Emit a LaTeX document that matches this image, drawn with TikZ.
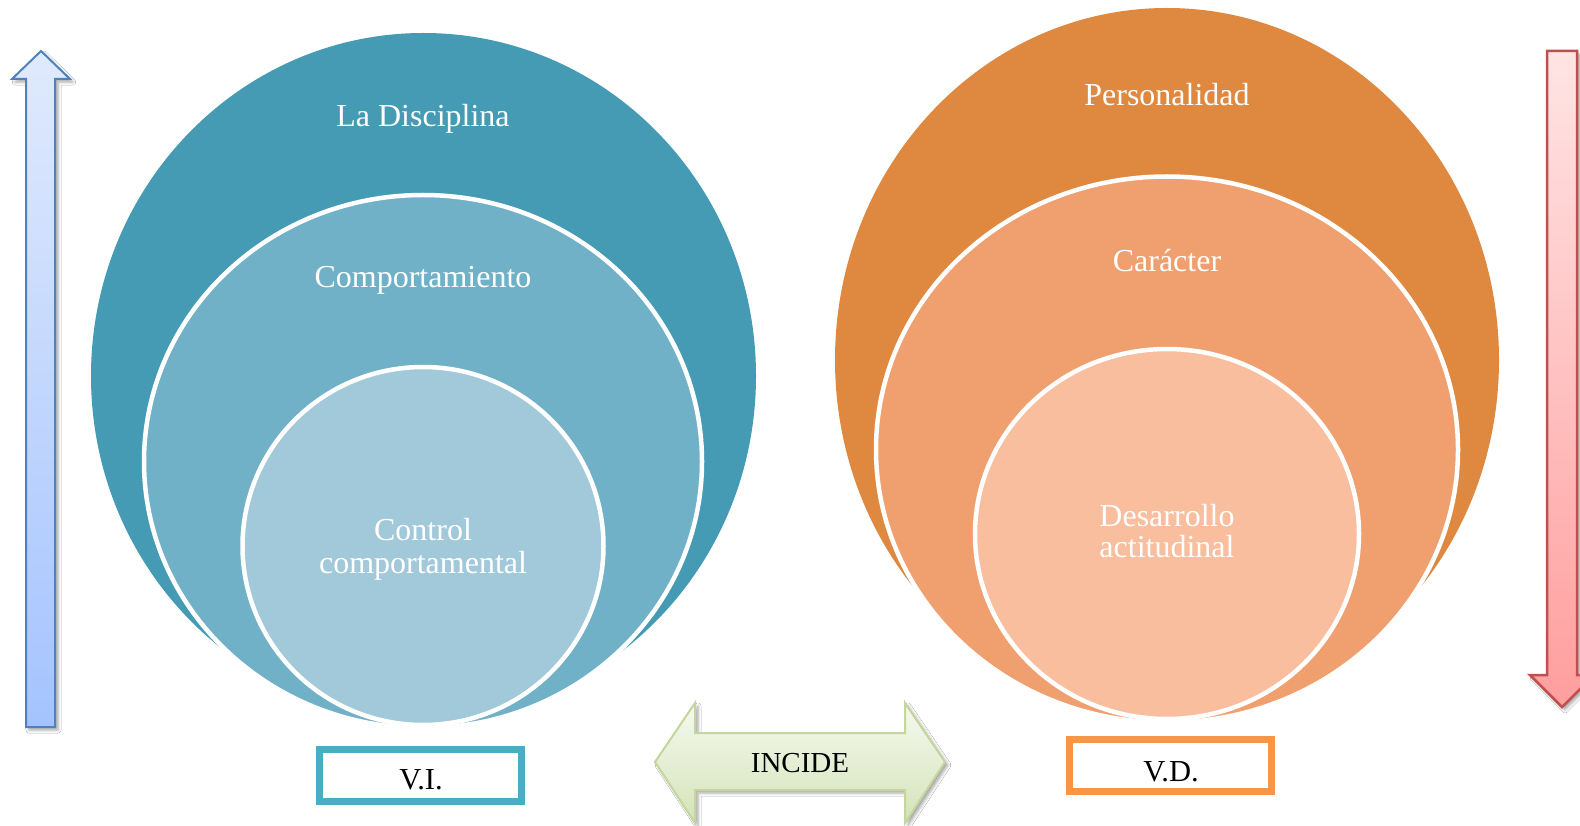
\documentclass[tikz,border=0pt]{standalone}
\usepackage{fontspec}
\setmainfont{Liberation Serif}
\usetikzlibrary{shapes.geometric,shadows.blur}
\definecolor{blueOuter}{HTML}{459BB4}
\definecolor{blueMid}{HTML}{70B1C8}
\definecolor{blueIn}{HTML}{A2C9D9}
\definecolor{orOuter}{HTML}{DF8840}
\definecolor{orMid}{HTML}{EFA06E}
\definecolor{orIn}{HTML}{F8BE9E}
\definecolor{viBox}{HTML}{4BACC6}
\definecolor{vdBox}{HTML}{F79646}
\definecolor{upLine}{HTML}{4F81BD}
\definecolor{upTop}{HTML}{E0EAFD}
\definecolor{upBot}{HTML}{A4C3FE}
\definecolor{dnLine}{HTML}{C0504D}
\definecolor{dnTop}{HTML}{FFE4E4}
\definecolor{dnBot}{HTML}{FF9E9E}
\definecolor{gLine}{HTML}{C3D69B}
\definecolor{gTop}{HTML}{F6F9F0}
\definecolor{gBot}{HTML}{D4E3B8}
\tikzset{
  disc/.style={ellipse, inner sep=0pt, outer sep=0pt},
  ring/.style={disc, draw=white, line width=4.5pt},
  wlabel/.style={text=white, font=\fontsize{32}{33}\selectfont, anchor=base, inner sep=0pt},
  varbox/.style={draw, line width=7pt, fill=white, inner sep=0pt, outer sep=0pt},
  blabel/.style={text=black, anchor=base, inner sep=0pt},
  arrowshadow/.style={blur shadow={shadow xshift=3pt, shadow yshift=-3pt, shadow blur radius=3pt, shadow opacity=35}}
}
\begin{document}
\begin{tikzpicture}[x=1pt,y=-1pt]
\clip (0,0) rectangle (1580,826);
\fill[white] (0,0) rectangle (1580,826);

% side arrows
\shade[top color=upTop, bottom color=upBot, draw=upLine, line width=2pt, line join=miter, arrowshadow]
  (41,51) -- (70,79) -- (55,79) -- (55,727) -- (26,727) -- (26,79) -- (12,79) -- cycle;
\shade[top color=dnTop, bottom color=dnBot, draw=dnLine, line width=2.5pt, line join=miter, arrowshadow]
  (1547,51) -- (1577,51) -- (1577,675) -- (1594,675) -- (1562,707) -- (1530,675) -- (1547,675) -- cycle;

% left stacked circles
\node[disc, fill=blueOuter, minimum width=665pt, minimum height=686pt] (outerL) at (423.5,376) {};
\node[ring, fill=blueMid, minimum width=558pt, minimum height=533pt] (midL) at (423,461.5) {};
\node[ring, fill=blueIn, minimum width=361pt, minimum height=358pt] (innL) at (423,546) {};
\node[wlabel] (tDisc) at (423,127) {La Disciplina};
\node[wlabel] (tComp) at (423,288) {Comportamiento};
\node[wlabel] (tCtrlA) at (423,540) {Control};
\node[wlabel] (tCtrlB) at (423,573) {comportamental};

% right stacked circles
\node[disc, fill=orOuter, minimum width=664pt, minimum height=704pt] (outerR) at (1167,360) {};
\node[ring, fill=orMid, minimum width=582pt, minimum height=546pt] (midR) at (1167,449.5) {};
\node[ring, fill=orIn, minimum width=384pt, minimum height=370pt] (innR) at (1167,534) {};
\node[wlabel] (tPers) at (1167,106) {Personalidad};
\node[wlabel] (tCar) at (1167,272) {Carácter};
\node[wlabel] (tDesA) at (1167,526) {Desarrollo};
\node[wlabel] (tDesB) at (1167,557) {actitudinal};

% variable boxes
\node[varbox, draw=viBox, minimum width=202pt, minimum height=52pt] (boxVI) at (420.5,775.5) {};
\node[blabel, font=\fontsize{30.5}{32}\selectfont] (tVI) at (421,789) {V.I.};
\node[varbox, draw=vdBox, minimum width=202pt, minimum height=52pt] (boxVD) at (1170.5,765.5) {};
\node[blabel, font=\fontsize{30.5}{32}\selectfont] (tVD) at (1171,781) {V.D.};

% double arrow INCIDE
\shade[top color=gTop, bottom color=gBot, draw=gLine, line width=2pt, line join=miter, arrowshadow]
  (655,762) -- (695,703) -- (695,733) -- (905,733) -- (905,703) -- (945,762)
  -- (905,823) -- (905,790) -- (695,790) -- (695,823) -- cycle;
\node[blabel, font=\fontsize{29}{31}\selectfont] (tInc) at (800,772) {INCIDE};
\end{tikzpicture}
\end{document}
